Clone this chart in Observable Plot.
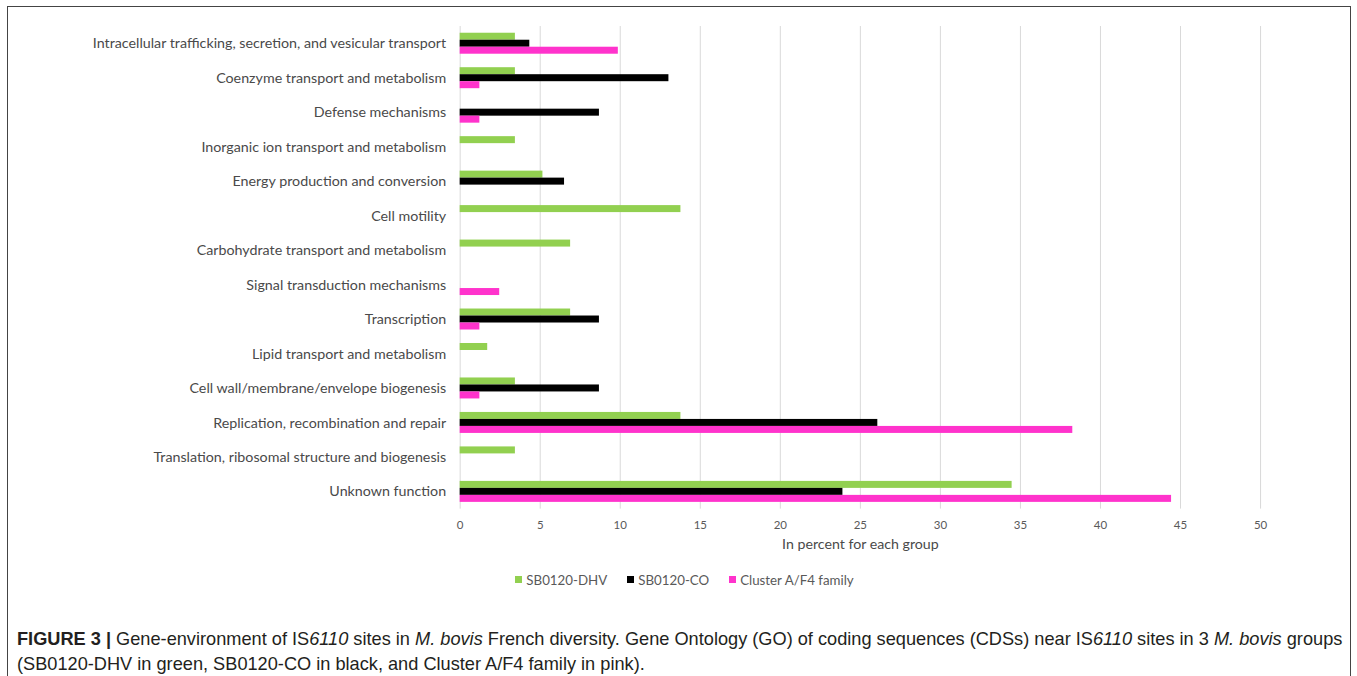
<!DOCTYPE html>
<html>
<head>
<meta charset="utf-8">
<script src="https://cdn.jsdelivr.net/npm/d3@7"></script>
<script src="https://cdn.jsdelivr.net/npm/@observablehq/plot@0.6"></script>
<style>
  body { margin: 0; background: #fff; }
  #frame { position: absolute; left: 7px; top: 6px; width: 1344px; height: 680px; border: 1px solid #444; border-bottom: none; box-sizing: border-box; }
  #chart { position: absolute; left: 1px; top: 1px; }
  #legend { position: absolute; left: 0; top: 556px; width: 1342px; display: flex; justify-content: center; padding-left: 31px; box-sizing: border-box; }
  #caption { position: absolute; left: 9px; top: 620px; width: 1334px; font-family: "Liberation Sans", Arial, sans-serif; font-size: 18.2px; line-height: 25px; color: #231f20; white-space: nowrap; }
  #caption b { font-weight: bold; }
</style>
</head>
<body>
<div id="frame">
  <div id="chart"></div>
  <div id="legend"></div>
  <div id="caption"><b>FIGURE 3 |</b> Gene-environment of IS<i>6110</i> sites in <i>M. bovis</i> French diversity. Gene Ontology (GO) of coding sequences (CDSs) near IS<i>6110</i> sites in 3 <i>M. bovis</i> groups<br>(SB0120-DHV in green, SB0120-CO in black, and Cluster A/F4 family in pink).</div>
</div>
<script>
const categories = [
  "Intracellular trafficking, secretion, and vesicular transport",
  "Coenzyme transport and metabolism",
  "Defense mechanisms",
  "Inorganic ion transport and metabolism",
  "Energy production and conversion",
  "Cell motility",
  "Carbohydrate transport and metabolism",
  "Signal transduction mechanisms",
  "Transcription",
  "Lipid transport and metabolism",
  "Cell wall/membrane/envelope biogenesis",
  "Replication, recombination and repair",
  "Translation, ribosomal structure and biogenesis",
  "Unknown function"
];
const groups = ["SB0120-DHV", "SB0120-CO", "Cluster A/F4 family"];
const dhv     = [3.45, 3.45, 0, 3.45, 5.17, 13.79, 6.9, 0, 6.9, 1.72, 3.45, 13.79, 3.45, 34.48];
const co      = [4.35, 13.04, 8.7, 0, 6.52, 0, 0, 0, 8.7, 0, 8.7, 26.09, 0, 23.91];
const cluster = [9.88, 1.23, 1.23, 0, 0, 0, 0, 2.47, 1.23, 0, 1.23, 38.27, 0, 44.44];
const colors = ["#92d050", "#000000", "#ff33cc"];
const xTicks = [0, 5, 10, 15, 20, 25, 30, 35, 40, 45, 50];
const xTitle = "In percent for each group";

const series = [dhv, co, cluster];
const data = [];
groups.forEach((g, i) => categories.forEach((c, j) => data.push({group: g, category: c, value: series[i][j]})));

const W = 1342, H = 555, mT = 18, mB = 54, mL = 451, mR = 90;
const band = (H - mT - mB) / categories.length;
const barH = 7;
const inset = (band - barH) / 2;

const plot = Plot.plot({
  width: W, height: H,
  marginTop: mT, marginBottom: mB, marginLeft: mL, marginRight: mR,
  style: {fontFamily: "Lato, sans-serif", fontSize: "11px", color: "#595959", background: "transparent"},
  x: {domain: [0, 50]},
  y: {domain: categories, padding: 0, round: false},
  color: {domain: groups, range: colors},
  marks: [
    Plot.gridX(xTicks, {stroke: "#d9d9d9", strokeOpacity: 1, strokeWidth: 1}),
    ...groups.map((g, i) => Plot.barX(data.filter(d => d.group === g), {
      x: "value", y: "category", fill: "group",
      insetTop: inset, insetBottom: inset, dy: (i - 1) * barH
    })),
    Plot.axisY({tickSize: 0, tickPadding: 14, fontSize: 14.3, fill: "#4a4a4a", label: null}),
    Plot.axisX(xTicks, {tickSize: 0, tickPadding: 12, fontSize: 11.5, fill: "#595959", label: null}),
    Plot.text([xTitle], {frameAnchor: "bottom", dy: 40, fontSize: 14.2, fill: "#4a4a4a"})
  ]
});
document.getElementById("chart").appendChild(plot);

const leg = plot.legend("color", {swatchSize: 7, className: "lg"});
document.getElementById("legend").appendChild(leg);
</script>
<style>
  .lg-swatches { font-family: Lato, sans-serif !important; font-size: 13.3px !important; color: #595959; }
  .lg-swatch { margin-right: 20px !important; }
  .lg-swatch svg { margin-right: 4px !important; }
</style>
</body>
</html>
